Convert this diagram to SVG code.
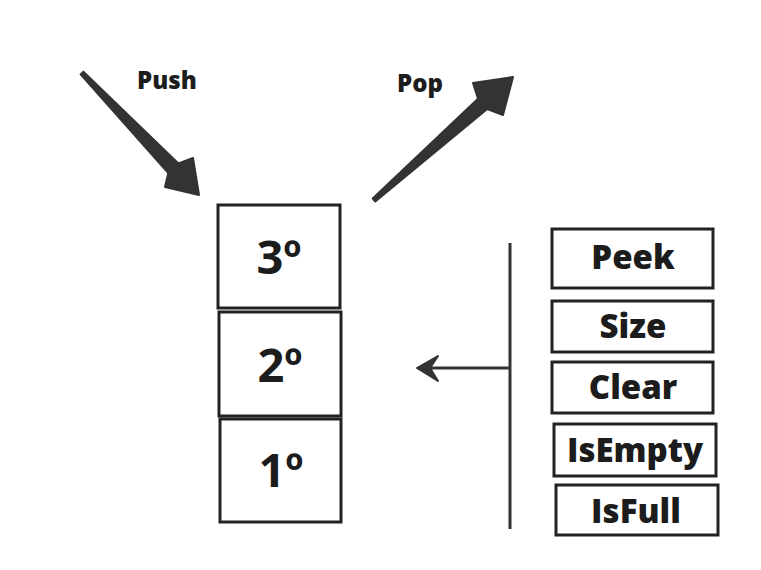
<svg xmlns="http://www.w3.org/2000/svg" width="761" height="570" viewBox="0 0 761 570">
<style>
.box{fill:#fff;stroke:#222;stroke-width:3}
.t{font-family:"Open Sans","Noto Sans","Liberation Sans",sans-serif;font-weight:700;fill:#1c1c1c;text-anchor:middle}
.big{font-size:47px}
.op{font-size:33px;font-weight:800}
.lbl{font-size:24px;font-weight:800;text-anchor:start}
.arr{fill:#333;stroke:#333;stroke-width:2;stroke-linejoin:round}
</style>
<rect width="761" height="570" fill="#fff"/>
<g id="connectors">
<path class="arr" d="M80.6,74.4 L168.3,173.1 L165,187 L199,195 L193,158 L178.4,163.5 L83.4,71.6 Z"/>
<path class="arr" d="M375.3,201.5 L487.2,109.1 L503,115 L513,77 L473,83 L478,98.7 L372.7,198.5 Z"/>
<line x1="510" y1="243" x2="510" y2="529" stroke="#333" stroke-width="3"/>
<line x1="510" y1="368" x2="428" y2="368" stroke="#333" stroke-width="3"/>
<path d="M417,368 L438,356 L430,368 L438,381 Z" fill="#333" stroke="#333" stroke-width="2" stroke-linejoin="round"/>
</g>
<g id="push-label"><text class="t lbl" x="137" y="89">Push</text></g>
<g id="pop-label"><text class="t lbl" x="397" y="92">Pop</text></g>
<g id="item3"><rect class="box" x="218" y="205" width="122" height="103"/><text class="t big" x="279" y="274">3º</text></g>
<g id="item2"><rect class="box" x="219" y="312" width="122" height="104"/><text class="t big" x="280" y="382">2º</text></g>
<g id="item1"><rect class="box" x="220" y="419" width="121" height="103"/><text class="t big" x="281" y="487">1º</text></g>
<g id="peek"><rect class="box" x="552" y="229" width="161" height="59"/><text class="t op" x="633" y="269">Peek</text></g>
<g id="size"><rect class="box" x="552" y="301" width="161" height="51"/><text class="t op" x="633" y="338">Size</text></g>
<g id="clear"><rect class="box" x="552" y="362" width="161" height="51"/><text class="t op" x="633" y="399">Clear</text></g>
<g id="isempty"><rect class="box" x="554" y="424" width="162" height="52"/><text class="t op" x="635" y="462">IsEmpty</text></g>
<g id="isfull"><rect class="box" x="556" y="485" width="162" height="50"/><text class="t op" x="636" y="523">IsFull</text></g>
</svg>
